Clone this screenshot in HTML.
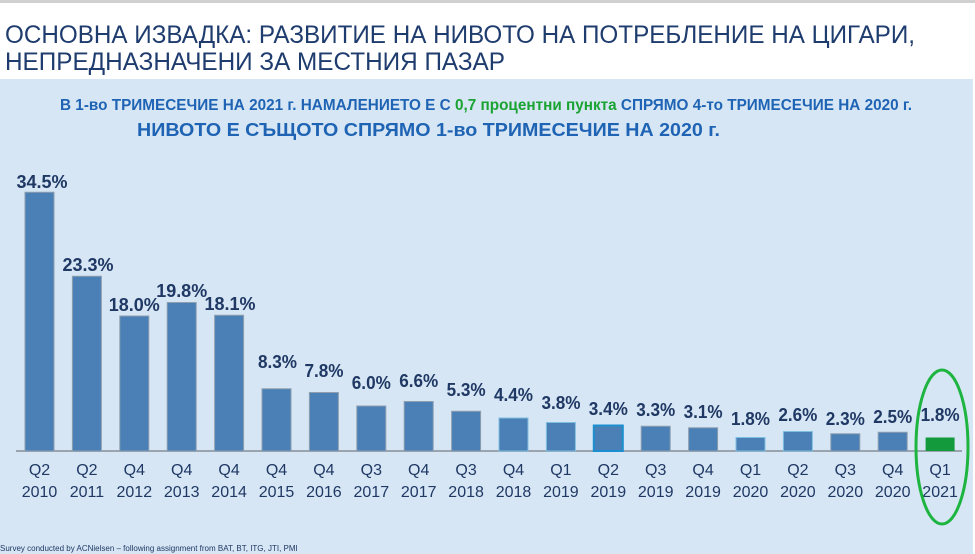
<!DOCTYPE html>
<html><head><meta charset="utf-8"><style>
html,body{margin:0;padding:0;background:#fff;}
svg{display:block;}
</style></head><body>
<svg width="975" height="554" xmlns="http://www.w3.org/2000/svg" font-family="Liberation Sans, sans-serif">
<rect x="0" y="0" width="975" height="554" fill="#fff"/>
<rect x="0" y="0" width="975" height="3" fill="#d0d0d0"/>
<rect x="0" y="79" width="973" height="475" fill="#d6e6f4"/>
<g fill="#1f3c6e" font-size="25">
<text x="5" y="43" textLength="910" lengthAdjust="spacingAndGlyphs">ОСНОВНА ИЗВАДКА: РАЗВИТИЕ НА НИВОТО НА ПОТРЕБЛЕНИЕ НА ЦИГАРИ,</text>
<text x="5" y="70" textLength="500" lengthAdjust="spacingAndGlyphs">НЕПРЕДНАЗНАЧЕНИ ЗА МЕСТНИЯ ПАЗАР</text>
</g>
<g font-weight="bold" fill="#1f64b4">
<text x="60" y="110" font-size="16" textLength="852" lengthAdjust="spacingAndGlyphs">В 1-во ТРИМЕСЕЧИЕ НА 2021 г. НАМАЛЕНИЕТО Е С <tspan fill="#1aa332">0,7 процентни пункта</tspan> СПРЯМО 4-то ТРИМЕСЕЧИЕ НА 2020 г.</text>
<text x="137" y="136" font-size="18" textLength="583" lengthAdjust="spacingAndGlyphs">НИВОТО Е СЪЩОТО СПРЯМО 1-во ТРИМЕСЕЧИЕ НА 2020 г.</text>
</g>
<line x1="16" y1="451" x2="962" y2="451" stroke="#9aa4ae" stroke-width="2"/>
<g fill="#4a80b6" stroke="#8f9fb0" stroke-width="1">
<rect x="25" y="192.25" width="29" height="258.75"/>
<rect x="72.4" y="276.25" width="29" height="174.75"/>
<rect x="119.8" y="316" width="29" height="135"/>
<rect x="167.2" y="302.5" width="29" height="148.5"/>
<rect x="214.6" y="315.25" width="29" height="135.75"/>
<rect x="262" y="388.75" width="29" height="62.25"/>
<rect x="309.4" y="392.5" width="29" height="58.5"/>
<rect x="356.8" y="406" width="29" height="45"/>
<rect x="404.2" y="401.5" width="29" height="49.5"/>
<rect x="451.6" y="411.25" width="29" height="39.75"/>
<rect x="499" y="418" width="29" height="33" stroke="#7fc0e0"/>
<rect x="546.4" y="422.5" width="29" height="28.5" stroke="#7fc0e0"/>
<rect x="593.8" y="425.5" width="29" height="25.5" stroke="#1b8fd0" stroke-width="2"/>
<rect x="641.2" y="426.25" width="29" height="24.75"/>
<rect x="688.6" y="427.75" width="29" height="23.25"/>
<rect x="736" y="437.5" width="29" height="13.5" stroke="#7fc0e0"/>
<rect x="783.4" y="431.5" width="29" height="19.5" stroke="#7fc0e0"/>
<rect x="830.8" y="433.75" width="29" height="17.25"/>
<rect x="878.2" y="432.25" width="29" height="18.75"/>
<rect x="925.6" y="437.5" width="29" height="13.5" fill="#139a3c" stroke="none"/>
</g>
<g font-size="18" font-weight="bold" fill="#1f3864" text-anchor="middle">
<text x="42" y="188" textLength="51" lengthAdjust="spacingAndGlyphs">34.5%</text>
<text x="88" y="271" textLength="51" lengthAdjust="spacingAndGlyphs">23.3%</text>
<text x="134.3" y="311" textLength="51" lengthAdjust="spacingAndGlyphs">18.0%</text>
<text x="181.7" y="297" textLength="51" lengthAdjust="spacingAndGlyphs">19.8%</text>
<text x="230" y="310" textLength="51" lengthAdjust="spacingAndGlyphs">18.1%</text>
<text x="277.5" y="368" textLength="39" lengthAdjust="spacingAndGlyphs">8.3%</text>
<text x="324" y="377" textLength="39" lengthAdjust="spacingAndGlyphs">7.8%</text>
<text x="371.3" y="389" textLength="39" lengthAdjust="spacingAndGlyphs">6.0%</text>
<text x="418.7" y="387" textLength="39" lengthAdjust="spacingAndGlyphs">6.6%</text>
<text x="466.1" y="396" textLength="39" lengthAdjust="spacingAndGlyphs">5.3%</text>
<text x="513.5" y="401" textLength="39" lengthAdjust="spacingAndGlyphs">4.4%</text>
<text x="561" y="409" textLength="39" lengthAdjust="spacingAndGlyphs">3.8%</text>
<text x="608.3" y="415" textLength="39" lengthAdjust="spacingAndGlyphs">3.4%</text>
<text x="655.7" y="416" textLength="39" lengthAdjust="spacingAndGlyphs">3.3%</text>
<text x="703.1" y="418" textLength="39" lengthAdjust="spacingAndGlyphs">3.1%</text>
<text x="750.5" y="425" textLength="39" lengthAdjust="spacingAndGlyphs">1.8%</text>
<text x="797.9" y="421" textLength="39" lengthAdjust="spacingAndGlyphs">2.6%</text>
<text x="845.3" y="425" textLength="39" lengthAdjust="spacingAndGlyphs">2.3%</text>
<text x="892.7" y="423" textLength="39" lengthAdjust="spacingAndGlyphs">2.5%</text>
<text x="940.1" y="421" textLength="39" lengthAdjust="spacingAndGlyphs">1.8%</text>
</g>
<g font-size="16" fill="#1f3864" text-anchor="middle">
<text x="39.5" y="475">Q2</text><text x="39.5" y="497">2010</text>
<text x="86.9" y="475">Q2</text><text x="86.9" y="497">2011</text>
<text x="134.3" y="475">Q4</text><text x="134.3" y="497">2012</text>
<text x="181.7" y="475">Q4</text><text x="181.7" y="497">2013</text>
<text x="229.1" y="475">Q4</text><text x="229.1" y="497">2014</text>
<text x="276.5" y="475">Q4</text><text x="276.5" y="497">2015</text>
<text x="323.9" y="475">Q4</text><text x="323.9" y="497">2016</text>
<text x="371.3" y="475">Q3</text><text x="371.3" y="497">2017</text>
<text x="418.7" y="475">Q4</text><text x="418.7" y="497">2017</text>
<text x="466.1" y="475">Q3</text><text x="466.1" y="497">2018</text>
<text x="513.5" y="475">Q4</text><text x="513.5" y="497">2018</text>
<text x="560.9" y="475">Q1</text><text x="560.9" y="497">2019</text>
<text x="608.3" y="475">Q2</text><text x="608.3" y="497">2019</text>
<text x="655.7" y="475">Q3</text><text x="655.7" y="497">2019</text>
<text x="703.1" y="475">Q4</text><text x="703.1" y="497">2019</text>
<text x="750.5" y="475">Q1</text><text x="750.5" y="497">2020</text>
<text x="797.9" y="475">Q2</text><text x="797.9" y="497">2020</text>
<text x="845.3" y="475">Q3</text><text x="845.3" y="497">2020</text>
<text x="892.7" y="475">Q4</text><text x="892.7" y="497">2020</text>
<text x="940.1" y="475">Q1</text><text x="940.1" y="497">2021</text>
</g>
<ellipse cx="942" cy="447" rx="26" ry="77" fill="none" stroke="#1db440" stroke-width="3"/>
<text x="0" y="551" font-size="8" fill="#1f3864">Survey conducted by ACNielsen – following assignment from BAT, BT, ITG, JTI, PMI</text>
</svg>
</body></html>
